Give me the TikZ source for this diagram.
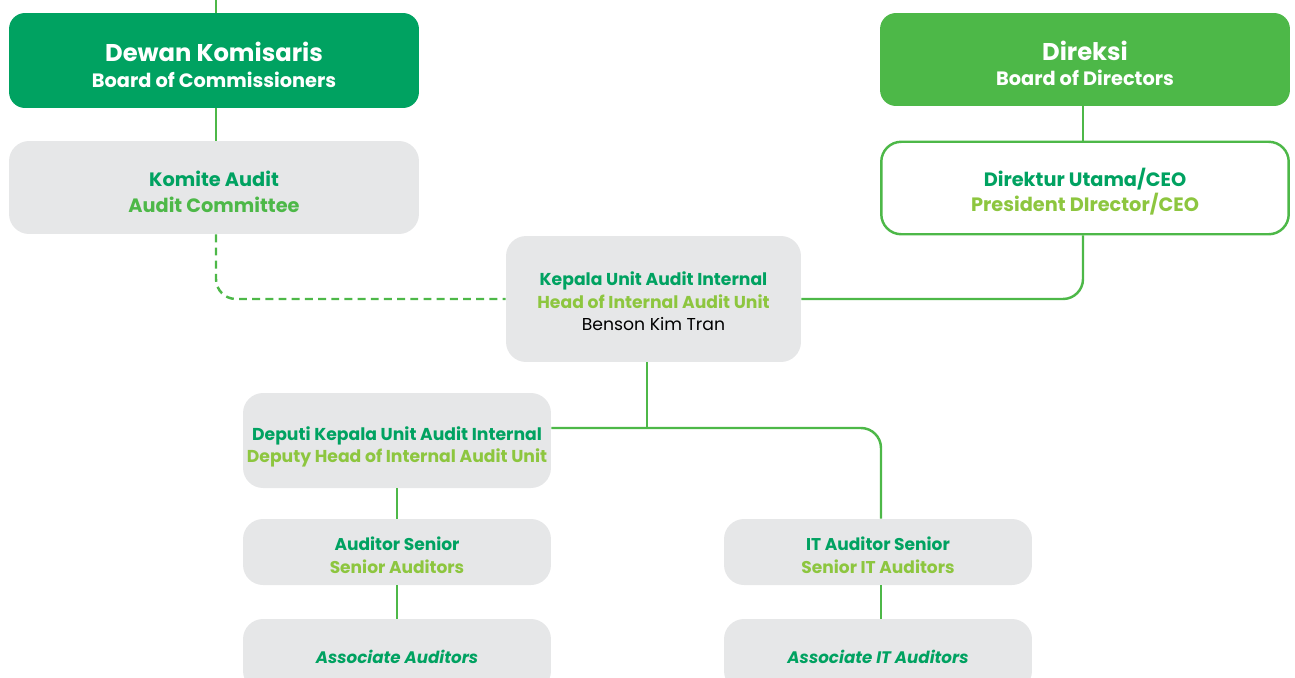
\documentclass[tikz,border=0pt]{standalone}
\usepackage{fontspec}
\setmainfont{Poppins}

\definecolor{darkgreen}{HTML}{00A261}
\definecolor{midgreen}{HTML}{4DB848}
\definecolor{lightgreen}{HTML}{8DC63F}
\definecolor{boxgray}{HTML}{E6E7E8}

% podpera, posune text v boxu dolu
\newcommand{\lowerby}[1]{\rule{0pt}{#1}}

\tikzset{
  board/.style={rounded corners=0.32cm, minimum width=8.2cm, inner sep=0pt,
    text=white, align=center, font=\bfseries},
  unit/.style={fill=boxgray, rounded corners=0.4cm, inner sep=0pt,
    align=center, font=\bfseries},
  link/.style={midgreen, line width=1.4pt, rounded corners=0.4cm},
}

\begin{document}
\begin{tikzpicture}[x=0.02cm, y=-0.02cm]
        \useasboundingbox (0,0) rectangle (1295,677);
        \clip (0,0) rectangle (1295,677);

        % dewan komisaris a komite audit
        \node[board, fill=darkgreen, minimum height=1.9cm] (dewan) at (214,60.5)
            {{\fontsize{13.8}{14}\selectfont\lowerby{16pt}Dewan Komisaris}\\[2.5pt]
             {\fontsize{11}{13}\selectfont Board of Commissioners}};
        \node[unit, minimum width=8.2cm, minimum height=1.86cm, font=\bfseries\fontsize{11}{14.3}\selectfont] (komite) at (214,187.5)
            {\lowerby{13.7pt}\textcolor{darkgreen}{Komite Audit}\\ \textcolor{midgreen}{Audit Committee}};

        % direksi a direktur utama
        \node[board, fill=midgreen, minimum height=1.86cm] (direksi) at (1085,59.5)
            {{\fontsize{13.8}{14}\selectfont\lowerby{15.5pt}Direksi}\\[2.5pt]
             {\fontsize{11}{13}\selectfont Board of Directors}};
        \node[unit, fill=white, draw=midgreen, line width=1.4pt, minimum width=8.15cm, minimum height=1.85cm,
            font=\bfseries\fontsize{11}{14.3}\selectfont] (direktur) at (1085,188)
            {\lowerby{14.3pt}\textcolor{darkgreen}{Direktur Utama/CEO}\\ \textcolor{lightgreen}{President DIrector/CEO}};

        % kepala unit audit internal
        \node[unit, minimum width=5.9cm, minimum height=2.52cm, font=\bfseries\fontsize{9.8}{12.8}\selectfont] (kepala) at (653.5,299)
            {\lowerby{10.8pt}\textcolor{darkgreen}{Kepala Unit Audit Internal}\\
             \textcolor{lightgreen}{Head of Internal Audit Unit}\\
             {\mdseries Benson Kim Tran}};

        % deputi a auditori
        \node[unit, minimum width=6.16cm, minimum height=1.9cm, font=\bfseries\fontsize{9.8}{12.5}\selectfont] (deputi) at (397,440.5)
            {\lowerby{15.2pt}\textcolor{darkgreen}{Deputi Kepala Unit Audit Internal}\\
             \textcolor{lightgreen}{Deputy Head of Internal Audit Unit}};
        \node[unit, minimum width=6.16cm, minimum height=1.32cm, font=\bfseries\fontsize{9.7}{13}\selectfont] (senior) at (397,552)
            {\lowerby{11.6pt}\textcolor{darkgreen}{Auditor Senior}\\ \textcolor{lightgreen}{Senior Auditors}};
        \node[unit, minimum width=6.16cm, minimum height=1.44cm, font=\bfseries\itshape\fontsize{9.5}{13}\selectfont,
            text=darkgreen] (associate) at (397,655) {\lowerby{9.2pt}Associate Auditors};

        \node[unit, minimum width=6.16cm, minimum height=1.32cm, font=\bfseries\fontsize{9.7}{13}\selectfont] (itsenior) at (878,552)
            {\lowerby{11.6pt}\textcolor{darkgreen}{IT Auditor Senior}\\ \textcolor{lightgreen}{Senior IT Auditors}};
        \node[unit, minimum width=6.16cm, minimum height=1.44cm, font=\bfseries\itshape\fontsize{9.5}{13}\selectfont,
            text=darkgreen] (itassociate) at (878,655) {\lowerby{9.2pt}Associate IT Auditors};

        % spojnice
        \coordinate (top) at (216,0);
        \coordinate (rtop) at (1083,0);
        \coordinate (itx) at (881,0);
        \coordinate (split) at (647,428);
        \draw[link] (top) -- (top |- dewan.north);
        \draw[link] (dewan.south -| top) -- (komite.north -| top);
        \draw[link] (direksi.south -| rtop) -- (direktur.north -| rtop);
        \draw[link, dash pattern=on 4.5pt off 3pt] (komite.south -| top) |- (kepala.west);
        \draw[link] (direktur.south -| rtop) |- (kepala.east);
        \draw[link] (kepala.south -| split) -- (split);
        \draw[link] (deputi.east |- split) -- (split) -| (itsenior.north -| itx);
        \draw[link] (deputi) -- (senior);
        \draw[link] (senior) -- (associate);
        \draw[link] (itsenior.south -| itx) -- (itassociate.north -| itx);
    \end{tikzpicture}
\end{document}
